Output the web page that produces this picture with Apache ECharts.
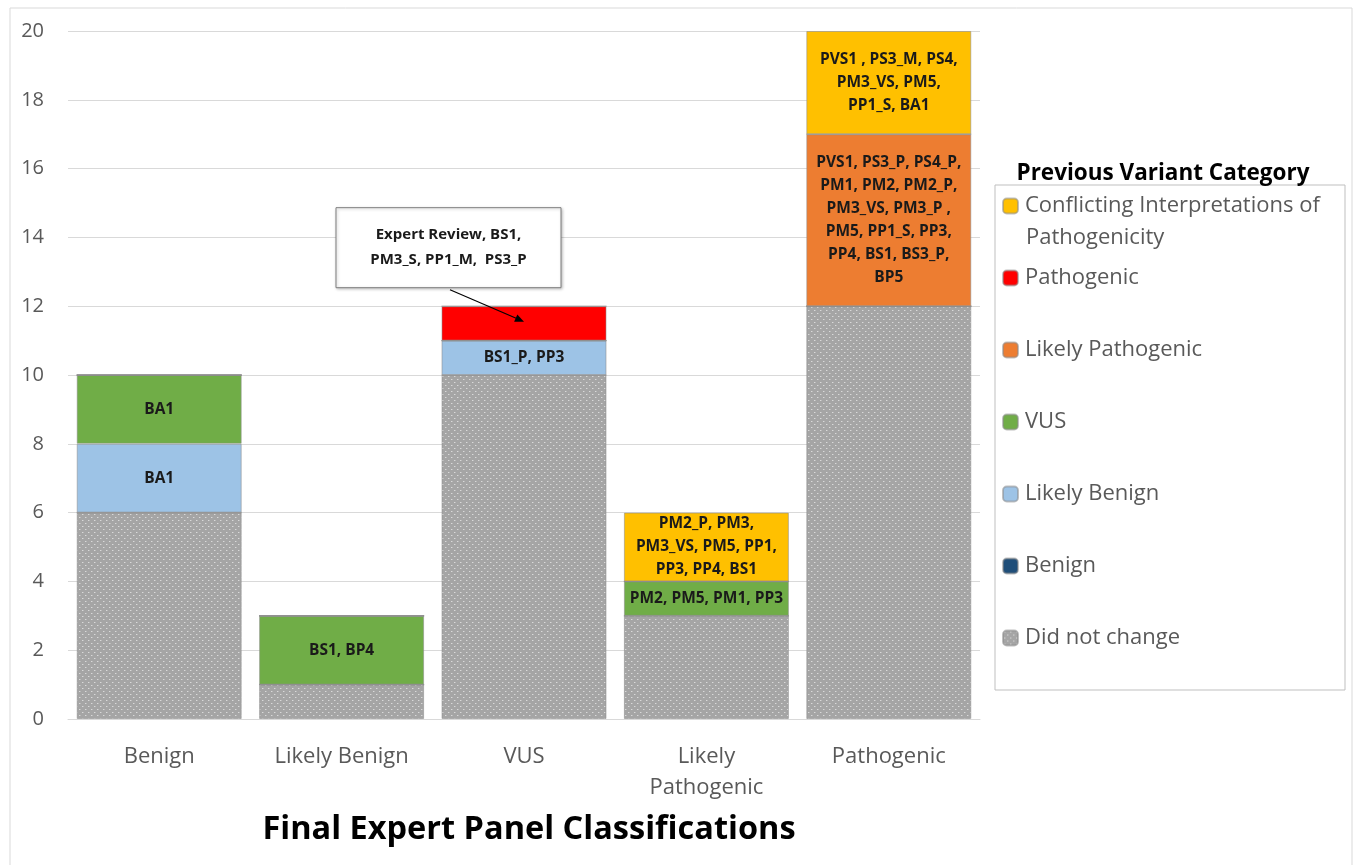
<!DOCTYPE html>
<html>
<head>
<meta charset="utf-8">
<script src="https://cdn.jsdelivr.net/npm/echarts@6/dist/echarts.min.js"></script>
<style>
html,body{margin:0;padding:0;background:#fff;}
#main{width:1356px;height:865px;}
</style>
</head>
<body>
<div id="main"></div>
<script>
// ---- data ----
const categories = ['Benign', 'Likely Benign', 'VUS', 'Likely Pathogenic', 'Pathogenic'];
const seriesNames = ['Did not change', 'Benign', 'Likely Benign', 'VUS', 'Likely Pathogenic', 'Pathogenic', 'Conflicting Interpretations of Pathogenicity'];
const didNotChange = [6, 1, 10, 3, 12];
const benign = [0, 0, 0, 0, 0];
const likelyBenign = [2, 0, 1, 0, 0];
const vus = [2, 2, 0, 1, 0];
const likelyPathogenic = [0, 0, 0, 0, 5];
const pathogenic = [0, 0, 1, 0, 0];
const conflicting = [0, 0, 0, 2, 3];
const yTicks = [0, 2, 4, 6, 8, 10, 12, 14, 16, 18, 20];

const labelsLikelyBenign = ['BA1', '', 'BS1_P, PP3', '', ''];
const labelsVus = ['BA1', 'BS1, BP4', '', 'PM2, PM5, PM1, PP3', ''];
const labelsLikelyPathogenic = ['', '', '', '', 'PVS1, PS3_P, PS4_P,\nPM1, PM2, PM2_P,\nPM3_VS, PM3_P ,\nPM5, PP1_S, PP3,\nPP4, BS1, BS3_P,\nBP5'];
const labelsPathogenic = ['', '', '', '', ''];
const labelsConflicting = ['', '', '', 'PM2_P, PM3,\nPM3_VS, PM5, PP1,\nPP3, PP4, BS1', 'PVS1 , PS3_M, PS4,\nPM3_VS, PM5,\nPP1_S, BA1'];
const calloutText = 'Expert Review, BS1,\nPM3_S, PP1_M,  PS3_P';

// ---- pattern for "Did not change" ----
const pc = document.createElement('canvas');
pc.width = 6; pc.height = 6;
const pctx = pc.getContext('2d');
pctx.fillStyle = '#a5a5a5';
pctx.fillRect(0, 0, 6, 6);
pctx.fillStyle = 'rgba(235,235,235,0.75)';
pctx.fillRect(1, 1, 1, 1);
pctx.fillRect(4, 4, 1, 1);
pctx.fillStyle = 'rgba(210,210,210,0.5)';
pctx.fillRect(2, 1, 1, 1);
pctx.fillRect(5, 4, 1, 1);
const grayPattern = { image: pc, repeat: 'repeat' };

const colors = [grayPattern, '#1f4e79', '#9dc3e6', '#70ad47', '#ed7d31', '#ff0000', '#ffc000'];
const values = [didNotChange, benign, likelyBenign, vus, likelyPathogenic, pathogenic, conflicting];
const labels = [null, null, labelsLikelyBenign, labelsVus, labelsLikelyPathogenic, labelsPathogenic, labelsConflicting];

const FONT = '"Open Sans", "DejaVu Sans", sans-serif';

const series = seriesNames.map((name, i) => ({
  name: name,
  type: 'bar',
  stack: 'total',
  barWidth: 165,
  data: values[i],
  itemStyle: { color: colors[i], borderColor: 'rgba(140,140,140,0.55)', borderWidth: 1 },
  label: {
    show: !!labels[i],
    position: 'inside',
    fontFamily: FONT,
    fontWeight: 'bold',
    fontSize: 15.5,
    lineHeight: 23,
    color: '#1a1a1a',
    formatter: p => (labels[i] ? labels[i][p.dataIndex] : '')
  },
  emphasis: { disabled: true }
}));

const chart = echarts.init(document.getElementById('main'), null, { renderer: 'canvas' });

const option = {
  animation: false,
  backgroundColor: '#fff',
  title: [
    {
      text: 'Final Expert Panel Classifications',
      left: 524, top: 808, textAlign: 'center',
      textStyle: { fontFamily: FONT, fontWeight: 'bold', fontSize: 32.5, color: '#000' }
    },
    {
      text: 'Previous Variant Category',
      left: 1158, top: 157, textAlign: 'center',
      textStyle: { fontFamily: FONT, fontWeight: 'bold', fontSize: 22.5, color: '#000' }
    }
  ],
  legend: {
    orient: 'vertical',
    left: 1002, top: 193,
    padding: 0,
    itemWidth: 15, itemHeight: 15,
    itemGap: 46,
    data: seriesNames.slice().reverse(),
    formatter: n => n === 'Conflicting Interpretations of Pathogenicity' ? 'Conflicting Interpretations of' : n,
    textStyle: { fontFamily: FONT, fontSize: 22, color: '#595959', lineHeight: 26, padding: [0, 0, 0, 2] },
    selectedMode: false
  },
  grid: { left: 68, right: 376, top: 31, bottom: 146 },
  xAxis: {
    type: 'category',
    data: categories,
    axisLine: { lineStyle: { color: '#d9d9d9' } },
    axisTick: { show: false },
    axisLabel: {
      fontFamily: FONT, fontSize: 22, color: '#595959', margin: 22, lineHeight: 31,
      interval: 0,
      formatter: v => v === 'Likely Pathogenic' ? 'Likely\nPathogenic' : v
    }
  },
  yAxis: {
    type: 'value',
    min: yTicks[0], max: yTicks[yTicks.length - 1], interval: 2,
    axisLine: { show: false },
    axisTick: { show: false },
    splitLine: { lineStyle: { color: '#d9d9d9' } },
    axisLabel: { fontFamily: FONT, fontSize: 20, color: '#595959', margin: 24 }
  },
  series: series,
  graphic: [
    { type: 'rect', shape: { x: 10, y: 8, width: 1342, height: 870 }, style: { fill: null, stroke: '#d9d9d9', lineWidth: 1 }, silent: true, z: -10 },
    { type: 'rect', shape: { x: 995, y: 185, width: 350, height: 505 }, style: { fill: null, stroke: '#bfbfbf', lineWidth: 1 }, silent: true },
    { type: 'text', left: 1026, top: 227, style: { text: 'Pathogenicity', font: '22px ' + FONT, fill: '#595959' }, silent: true }
  ]
};
chart.setOption(option);

// ---- callout anchored to the VUS bar's Pathogenic segment ----
const tip = chart.convertToPixel({ xAxisIndex: 0, yAxisIndex: 0 }, ['VUS', didNotChange[2] + likelyBenign[2] + pathogenic[2] * 0.55]);
const bx = tip[0] - 188, by = tip[1] - 114, bw = 225, bh = 80;
const sx = tip[0] - 74, sy = tip[1] - 32;
const ang = Math.atan2(tip[1] - sy, tip[0] - sx);
const ah = 9, aw = 4;
const p1 = [tip[0] - ah * Math.cos(ang) + aw * Math.sin(ang), tip[1] - ah * Math.sin(ang) - aw * Math.cos(ang)];
const p2 = [tip[0] - ah * Math.cos(ang) - aw * Math.sin(ang), tip[1] - ah * Math.sin(ang) + aw * Math.cos(ang)];
chart.setOption({
  graphic: option.graphic.concat([
    { type: 'rect', shape: { x: bx, y: by, width: bw, height: bh }, style: { fill: '#fff', stroke: '#7f7f7f', lineWidth: 1, shadowBlur: 3, shadowColor: 'rgba(0,0,0,0.25)', shadowOffsetX: 1, shadowOffsetY: 1 }, z: 100 },
    { type: 'text', x: bx + bw / 2, y: by + bh / 2, style: { text: calloutText, font: 'bold 15px ' + FONT, fill: '#1a1a1a', align: 'center', verticalAlign: 'middle', lineHeight: 25 }, z: 101 },
    { type: 'line', shape: { x1: sx, y1: sy, x2: tip[0] - 6 * Math.cos(ang), y2: tip[1] - 6 * Math.sin(ang) }, style: { stroke: '#000', lineWidth: 1.2 }, z: 100 },
    { type: 'polygon', shape: { points: [tip, p1, p2] }, style: { fill: '#000' }, z: 100 }
  ])
});
</script>
</body>
</html>
